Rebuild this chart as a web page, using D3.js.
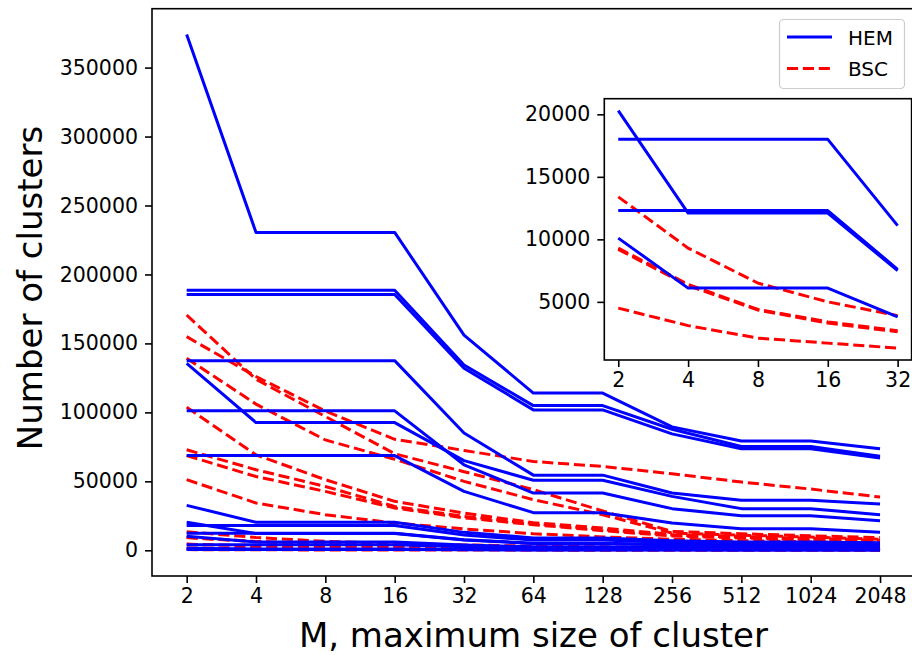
<!DOCTYPE html>
<html lang="en">
<head>
  <meta charset="UTF-8">
  <title>Number of clusters vs M</title>
  <style>
    body { margin: 0; background: #fff; }
    svg { font-family: 'DejaVu Sans', sans-serif; display: block; }
    text { font-family: 'DejaVu Sans', sans-serif; }
    .hem { fill: none; stroke: #0000ff; stroke-width: 3px; stroke-linejoin: round; }
    .bsc { fill: none; stroke: #ff0000; stroke-width: 3px; stroke-dasharray: 11.1 4.8; }
    .frame { fill: none; stroke: #000; stroke-width: 1.6px; }
    .tick line { stroke: #000; stroke-width: 1.6px; }
    .tick text { font-size: 20.5px; fill: #000; }
  </style>
  <script src="https://d3js.org/d3.v7.min.js"></script>
</head>
<body>
<svg width="912" height="655"></svg>
<script>
  // cluster-size limit M
  const sizes = [2, 4, 8, 16, 32, 64, 128, 256, 512, 1024, 2048];
  const yTicks = [0, 50000, 100000, 150000, 200000, 250000, 300000, 350000];

  // HEM runs, one row per graph
  const hem = [
    [374000, 230500, 230500, 230500, 156000, 114000, 114000, 89500, 79300, 79300, 73600],
    [188600, 188600, 188600, 188600, 134400, 104900, 104900, 87800, 75300, 75300, 68200],
    [185500, 185500, 185500, 185500, 132000, 101800, 101800, 84400, 73600, 73600, 66900],
    [137500, 137500, 137500, 137500, 85000, 54500, 54500, 41500, 36300, 36300, 33600],
    [135600, 92600, 92600, 92600, 65000, 50800, 50800, 39100, 30200, 30200, 25800],
    [101100, 101100, 101100, 101100, 62000, 41500, 41500, 30200, 25100, 25100, 21500],
    [68700, 68700, 68700, 68700, 42700, 27300, 27300, 19800, 15700, 15700, 13000],
    [32600, 20300, 20300, 20300, 13000, 9000, 9000, 7000, 6000, 6000, 5400],
    [18000, 18000, 18000, 18000, 11100, 7400, 7400, 5700, 4900, 4900, 4400],
    [20300, 12100, 12100, 12100, 7500, 5000, 5000, 3900, 3300, 3300, 3000],
    [12300, 12300, 12300, 12300, 7600, 5100, 5100, 4000, 3400, 3400, 3100],
    [10100, 6100, 6100, 6100, 3800, 2500, 2500, 2000, 1700, 1700, 1500],
    [4000, 4000, 4000, 4000, 2500, 1700, 1700, 1300, 1100, 1100, 1000],
    [1500, 1000, 1000, 1000, 650, 450, 450, 350, 300, 300, 270],
    [500, 500, 500, 500, 320, 220, 220, 170, 150, 150, 130]
  ];

  // BSC runs
  const bsc = [
    [170600, 124000, 97000, 70000, 57000, 44000, 28500, 13700, 12000, 10500, 9200],
    [154900, 126000, 101000, 80500, 72400, 64400, 60800, 55500, 49500, 44400, 38600],
    [139200, 106000, 80000, 66000, 50000, 36700, 25800, 12500, 11000, 9600, 8000],
    [103800, 69200, 51200, 35500, 27000, 20000, 16200, 11500, 10000, 8600, 7200],
    [72900, 58400, 46300, 31800, 24600, 19300, 15000, 11000, 9400, 8000, 6800],
    [68700, 53500, 42700, 30700, 23500, 18600, 14200, 10400, 8900, 7500, 6200],
    [51200, 34300, 25800, 19800, 15500, 12000, 9700, 8000, 7000, 6100, 5300],
    [13400, 9300, 6500, 5000, 3900, 3000, 2500, 2000, 1700, 1500, 1300],
    [9300, 6400, 4400, 3400, 2700, 2100, 1700, 1400, 1200, 1050, 900],
    [9200, 6300, 4350, 3300, 2600, 2000, 1600, 1300, 1100, 950, 850],
    [4500, 3100, 2100, 1700, 1300, 1000, 800, 700, 600, 520, 450],
    [1700, 1200, 900, 700, 550, 450, 380, 320, 280, 250, 220],
    [500, 360, 260, 200, 160, 130, 110, 90, 80, 70, 60]
  ];

  // zoomed inset: first five sizes of the smaller graphs
  const insetSizes = sizes.slice(0, 5);
  const insetHemRows = [8, 9, 10, 11];
  const insetBscRows = [7, 8, 9, 10];
  const insetYTicks = [5000, 10000, 15000, 20000];

  const svg = d3.select("svg");

  // matplotlib-ish 5% padding around the data
  function padded(lo, hi) {
    const r = hi - lo;
    return [lo - 0.05 * r, hi + 0.05 * r];
  }

  // d3 axes put font attrs on the group; drop them so the css wins
  function plainAxis(g) {
    g.select(".domain").remove();
    g.attr("font-family", null).attr("font-size", null);
  }

  const all = hem.concat(bsc).flat();
  const x = d3.scaleLog().base(2).domain([Math.pow(2, 0.5), Math.pow(2, 11.5)]).range([152, 914.7]);
  const y = d3.scaleLinear().domain(padded(d3.min(all), d3.max(all))).range([576, 8.7]);

  const main = svg.append("g");
  main.append("clipPath").attr("id", "clipMain")
    .append("rect").attr("x", 152).attr("y", 8.7).attr("width", 762.7).attr("height", 567.3);

  const line = d3.line().x((d, i) => x(sizes[i])).y(d => y(d));
  const plot = main.append("g").attr("clip-path", "url(#clipMain)");
  for (let i = 0; i < Math.max(hem.length, bsc.length); i++) {
    if (hem[i]) plot.append("path").attr("class", "hem").attr("d", line(hem[i]));
    if (bsc[i]) plot.append("path").attr("class", "bsc").attr("d", line(bsc[i]));
  }

  main.append("g").attr("transform", "translate(0,576)")
    .call(d3.axisBottom(x).tickValues(sizes).tickFormat(d3.format("d")).tickSize(7).tickPadding(5))
    .call(plainAxis);
  main.append("g").attr("transform", "translate(152,0)")
    .call(d3.axisLeft(y).tickValues(yTicks).tickFormat(d3.format("d")).tickSize(7).tickPadding(7))
    .call(plainAxis);

  main.append("rect").attr("class", "frame")
    .attr("x", 152).attr("y", 8.7).attr("width", 762.7).attr("height", 567.3);

  svg.append("text").attr("x", 533.4).attr("y", 646.5)
    .attr("text-anchor", "middle").attr("font-size", 34)
    .text("M, maximum size of cluster");
  svg.append("text").attr("transform", "translate(42,288) rotate(-90)")
    .attr("text-anchor", "middle").attr("font-size", 34)
    .text("Number of clusters");

  // legend
  const leg = svg.append("g");
  leg.append("rect").attr("x", 779.5).attr("y", 19.5).attr("width", 125).attr("height", 69).attr("rx", 4)
    .attr("fill", "#fff").attr("fill-opacity", 0.8).attr("stroke", "#cccccc").attr("stroke-width", 1.2);
  [["HEM", "hem", 37], ["BSC", "bsc", 68.5]].forEach(([name, cls, ly]) => {
    leg.append("path").attr("class", cls).attr("d", `M787,${ly}H832`);
    leg.append("text").attr("x", 848).attr("y", ly + 7.5).attr("font-size", 20).text(name);
  });

  // inset axes
  const insetHem = insetHemRows.map(r => hem[r].slice(0, 5));
  const insetBsc = insetBscRows.map(r => bsc[r].slice(0, 5));
  const insetAll = insetHem.concat(insetBsc).flat();
  const ix = d3.scaleLog().base(2).domain([Math.pow(2, 0.8), Math.pow(2, 5.2)]).range([604.3, 911.6]);
  const iy = d3.scaleLinear().domain(padded(d3.min(insetAll), d3.max(insetAll))).range([360, 98.7]);

  const inset = svg.append("g");
  inset.append("rect").attr("x", 604.3).attr("y", 98.7).attr("width", 307.3).attr("height", 261.3).attr("fill", "#fff");
  const iline = d3.line().x((d, i) => ix(insetSizes[i])).y(d => iy(d));
  insetHem.forEach((s, i) => {
    inset.append("path").attr("class", "hem").attr("d", iline(s));
    inset.append("path").attr("class", "bsc").attr("d", iline(insetBsc[i]));
  });
  inset.append("g").attr("transform", "translate(0,360)")
    .call(d3.axisBottom(ix).tickValues(insetSizes).tickFormat(d3.format("d")).tickSize(7).tickPadding(5))
    .call(plainAxis);
  inset.append("g").attr("transform", "translate(604.3,0)")
    .call(d3.axisLeft(iy).tickValues(insetYTicks).tickFormat(d3.format("d")).tickSize(7).tickPadding(7))
    .call(plainAxis);
  inset.append("rect").attr("class", "frame")
    .attr("x", 604.3).attr("y", 98.7).attr("width", 307.3).attr("height", 261.3);
</script>
</body>
</html>
